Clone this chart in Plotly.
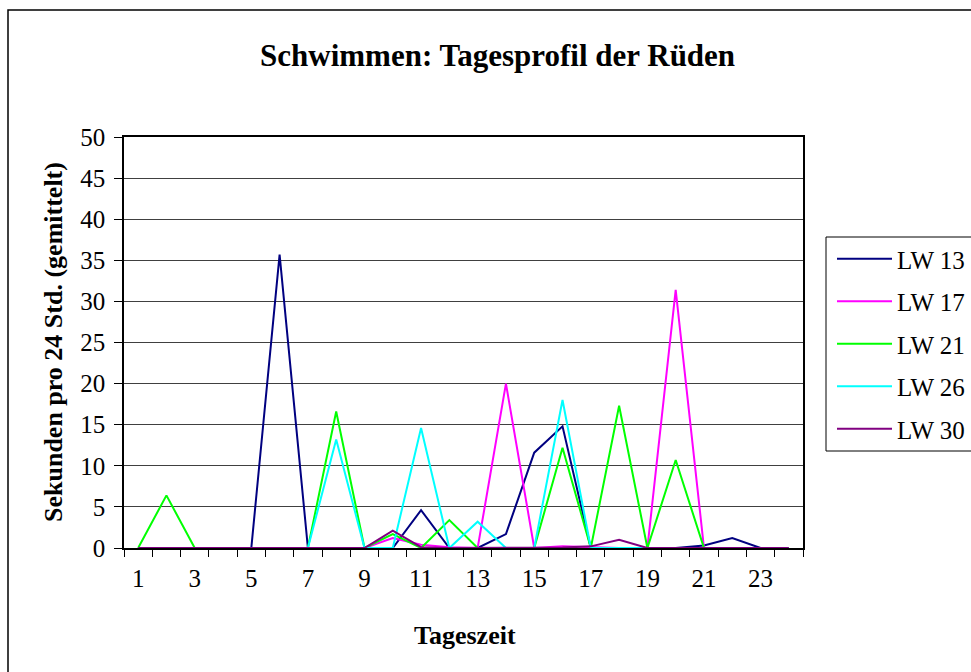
import plotly.graph_objects as go

# Hour-of-day categories (1..24) and averaged swimming seconds per 24 h
hours = list(range(1, 25))
tick_hours = [h for h in hours if h % 2 == 1]

lw13 = [0, 0, 0, 0, 0, 35.7, 0, 0, 0, 0, 4.6, 0, 0, 1.7, 11.6, 14.8, 0, 0, 0, 0, 0.3, 1.2, 0, 0]
lw17 = [0, 0, 0, 0, 0, 0, 0, 0, 0, 1.2, 0.4, 0.1, 0, 20.0, 0, 0.2, 0.1, 0, 0, 31.4, 0, 0, 0, 0]
lw21 = [0, 6.4, 0, 0, 0, 0, 0, 16.6, 0, 1.7, 0, 3.4, 0, 0, 0, 12.2, 0, 17.3, 0, 10.7, 0, 0, 0, 0]
lw26 = [0, 0, 0, 0, 0, 0, 0, 13.2, 0, 0, 14.6, 0, 3.2, 0, 0, 18.0, 0, 0, 0, 0, 0, 0, 0, 0]
lw30 = [0, 0, 0, 0, 0, 0, 0, 0, 0, 2.1, 0.1, 0, 0, 0, 0, 0.05, 0.2, 1.0, 0, 0, 0, 0, 0, 0]

series_names = ["LW 13", "LW 17", "LW 21", "LW 26", "LW 30"]
series_values = [lw13, lw17, lw21, lw26, lw30]
series_colors = ["#000080", "#FF00FF", "#00FF00", "#00FFFF", "#800080"]

FONT = "Liberation Serif"

fig = go.Figure()
for name, vals, col in zip(series_names, series_values, series_colors):
    fig.add_trace(go.Scatter(
        x=hours, y=vals, mode="lines", name=name, legendgroup=name,
        line=dict(color=col, width=2), cliponaxis=False,
    ))

# plot area in pixels: x 124..803, y 137..548
W, H = 971, 672
L, R, T, B = 124, 803, 137, 548


def px(x):
    return (x - L) / (R - L)


def py(y):
    return (B - y) / (B - T)


fig.update_layout(
    width=W, height=H,
    margin=dict(l=L, r=W - R, t=T, b=H - B, pad=0, autoexpand=False),
    paper_bgcolor="white", plot_bgcolor="white",
    font=dict(family=FONT, size=25, color="black"),
    showlegend=True,
    legend=dict(
        xref="container", yref="container",
        x=832 / W, y=1 - 236 / H, xanchor="left", yanchor="top",
        bgcolor="rgba(0,0,0,0)", borderwidth=0,
        font=dict(family=FONT, size=25, color="black"),
        tracegroupgap=7, itemwidth=55, traceorder="grouped",
    ),
    xaxis=dict(
        range=[0.5, 24.5], tickmode="array", tickvals=tick_hours,
        ticktext=[str(h) for h in tick_hours],
        ticks="outside", ticklen=7, tickcolor="rgba(0,0,0,0)",
        showgrid=False, zeroline=False,
        showline=True, linecolor="black", linewidth=1.5, mirror=True,
        layer="below traces",
        minor=dict(tickmode="array", tickvals=[h - 0.5 for h in hours] + [hours[-1] + 0.5],
                   ticks="outside", ticklen=7, tickcolor="black", tickwidth=1, showgrid=False),
        tickfont=dict(family=FONT, size=25, color="black"),
    ),
    yaxis=dict(
        range=[0, 50], tickmode="linear", tick0=0, dtick=5,
        ticks="outside", ticklen=8, tickcolor="black", tickwidth=1,
        showgrid=True, gridcolor="#404040", gridwidth=1, zeroline=False,
        showline=True, linecolor="black", linewidth=1.5, mirror=True,
        layer="below traces",
        tickfont=dict(family=FONT, size=25, color="black"),
        ticklabelstandoff=4,
    ),
    shapes=[
        # outer chart frame
        dict(type="rect", xref="paper", yref="paper",
             x0=px(8), x1=px(990), y0=py(690), y1=py(10),
             line=dict(color="black", width=1.5), fillcolor="rgba(0,0,0,0)", layer="below"),
        # legend frame
        dict(type="rect", xref="paper", yref="paper",
             x0=px(826), x1=px(990), y0=py(451), y1=py(237),
             line=dict(color="black", width=1), fillcolor="rgba(0,0,0,0)"),
    ],
    annotations=[
        dict(text="<b>Schwimmen: Tagesprofil der Rüden</b>", xref="paper", yref="paper",
             x=px(497), y=py(55), xanchor="center", yanchor="middle", showarrow=False,
             font=dict(family=FONT, size=31, color="black")),
        dict(text="<b>Tageszeit</b>", xref="paper", yref="paper",
             x=px(465), y=py(635), xanchor="center", yanchor="middle", showarrow=False,
             font=dict(family=FONT, size=26, color="black")),
        dict(text="<b>Sekunden pro 24 Std. (gemittelt)</b>", xref="paper", yref="paper",
             x=px(53), y=py(342), xanchor="center", yanchor="middle", showarrow=False,
             textangle=-90, font=dict(family=FONT, size=26, color="black")),
    ],
)

fig.write_html("out.html")
